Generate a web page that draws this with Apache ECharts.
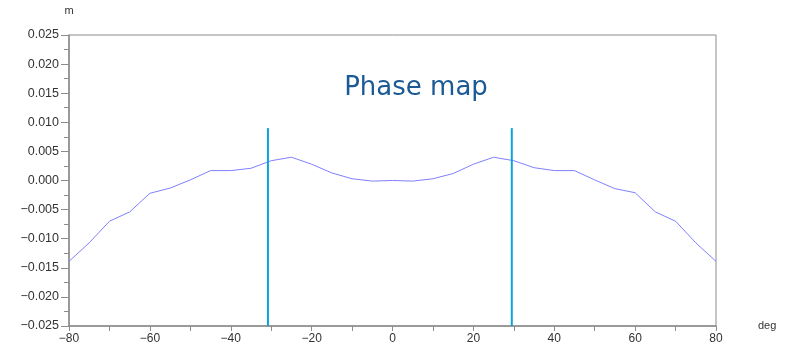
<!DOCTYPE html>
<html>
<head>
<meta charset="utf-8">
<script src="https://cdn.jsdelivr.net/npm/echarts@6/dist/echarts.min.js"></script>
<style>
  html, body { margin: 0; padding: 0; background: #fff; }
  #chart { width: 792px; height: 345px; }
</style>
</head>
<body>
<div id="chart"></div>
<script>
// Phase profile: displacement (m) against angle (deg)
const angles = [-80, -75, -70, -65, -60, -55, -50, -45, -40, -35, -30, -25, -20, -15, -10, -5,
                0, 5, 10, 15, 20, 25, 30, 35, 40, 45, 50, 55, 60, 65, 70, 75, 80];
const displacement = [-0.0139, -0.0107, -0.0070, -0.0054, -0.0022, -0.0013, 0.0001, 0.0017, 0.0017, 0.0021, 0.0034, 0.0040, 0.0028, 0.0013, 0.0003, -0.0001,
                      0.0000, -0.0001, 0.0003, 0.0012, 0.0028, 0.0040, 0.0034, 0.0022, 0.0017, 0.0017, 0.0001, -0.0014, -0.0021, -0.0054, -0.0070, -0.0107, -0.0139];

// Vertical marker lines (angle, top value)
const markerAngles = [-30.8, 29.5];
const markerTop = 0.009;

const xTicks = { min: -80, max: 80, interval: 20 };
const yTicks = { min: -0.025, max: 0.025, interval: 0.005 };

const axisGray = '#8c8c8c';
const labelColor = '#333';
const labelFont = 'Liberation Sans, Arial, sans-serif';

const chart = echarts.init(document.getElementById('chart'));

const markerSeries = markerAngles.map(a => ({
  type: 'line',
  data: [[a, yTicks.min], [a, markerTop]],
  symbol: 'none',
  lineStyle: { color: '#0aa3de', width: 2 },
  silent: true,
  z: 3
}));

chart.setOption({
  animation: false,
  title: {
    text: 'Phase map',
    left: 411,
    top: 70,
    textAlign: 'center',
    textStyle: {
      fontFamily: '"Comic Sans MS", "DejaVu Sans", sans-serif',
      fontSize: 26,
      fontWeight: 'normal',
      color: '#1b5a94'
    }
  },
  grid: {
    left: 69, right: 76, top: 35, bottom: 19,
    show: true,
    borderColor: axisGray,
    borderWidth: 1,
    backgroundColor: 'transparent'
  },
  xAxis: {
    type: 'value',
    min: xTicks.min, max: xTicks.max, interval: xTicks.interval,
    name: 'deg',
    nameLocation: 'end',
    nameGap: 42,
    nameTextStyle: { color: labelColor, fontSize: 11, fontFamily: labelFont, verticalAlign: 'middle' },
    axisLine: { onZero: false, lineStyle: { color: axisGray, width: 1.5 } },
    axisTick: { show: true, length: 5, lineStyle: { color: axisGray } },
    minorTick: { show: true, splitNumber: 2, length: 5, lineStyle: { color: axisGray } },
    splitLine: { show: false },
    axisLabel: {
      color: labelColor, fontSize: 12, margin: 7,
      fontFamily: labelFont,
      formatter: v => String(v).replace('-', '\u2212')
    }
  },
  yAxis: {
    type: 'value',
    min: yTicks.min, max: yTicks.max, interval: yTicks.interval,
    name: 'm',
    nameLocation: 'end',
    nameGap: 19,
    nameTextStyle: { color: labelColor, fontSize: 11, fontFamily: labelFont, align: 'center' },
    axisLine: { show: true, onZero: false, lineStyle: { color: axisGray, width: 1.5 } },
    axisTick: { show: true, length: 8, lineStyle: { color: axisGray } },
    minorTick: { show: true, splitNumber: 2, length: 5, lineStyle: { color: axisGray } },
    splitLine: { show: false },
    axisLabel: {
      color: labelColor, fontSize: 12.5, margin: 10,
      fontFamily: labelFont,
      formatter: v => v.toFixed(3).replace('-', '\u2212')
    }
  },
  series: [
    {
      type: 'line',
      data: angles.map((a, i) => [a, displacement[i]]),
      symbol: 'none',
      lineStyle: { color: '#7f7fff', width: 1 },
      z: 2
    },
    ...markerSeries
  ]
});
</script>
</body>
</html>
